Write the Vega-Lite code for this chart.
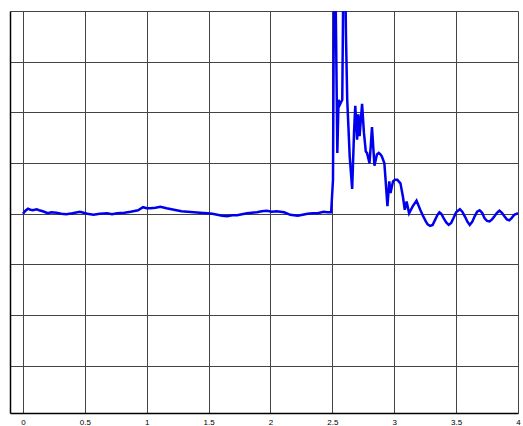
{
  "$schema": "https://vega.github.io/schema/vega-lite/v6.json",
  "autosize": "none",
  "width": 508,
  "height": 402,
  "padding": {"left": 10, "top": 11, "right": 5, "bottom": 13},
  "background": "white",
  "config": {"view": {"stroke": null}},
  "data": {"values": [
    {"t":0,"v":0},{"t":0.02,"v":0.06},{"t":0.04,"v":0.1},{"t":0.06,"v":0.08},{"t":0.08,"v":0.07},{"t":0.11,"v":0.09},{"t":0.13,"v":0.07},{"t":0.16,"v":0.05},{"t":0.2,"v":0.01},{"t":0.23,"v":0.03},{"t":0.27,"v":0.02},{"t":0.31,"v":0.0},{"t":0.35,"v":-0.01},{"t":0.4,"v":0.01},{"t":0.46,"v":0.04},{"t":0.52,"v":0},{"t":0.57,"v":-0.02},{"t":0.62,"v":0.0},{"t":0.68,"v":0.01},{"t":0.72,"v":-0.01},{"t":0.76,"v":0.01},{"t":0.82,"v":0.02},{"t":0.87,"v":0.04},{"t":0.93,"v":0.07},{"t":0.97,"v":0.13},{"t":1.0,"v":0.11},{"t":1.03,"v":0.11},{"t":1.07,"v":0.12},{"t":1.11,"v":0.14},{"t":1.16,"v":0.11},{"t":1.22,"v":0.08},{"t":1.28,"v":0.05},{"t":1.33,"v":0.04},{"t":1.38,"v":0.03},{"t":1.43,"v":0.02},{"t":1.49,"v":0.01},{"t":1.53,"v":0.0},{"t":1.57,"v":-0.02},{"t":1.61,"v":-0.04},{"t":1.65,"v":-0.05},{"t":1.69,"v":-0.03},{"t":1.73,"v":-0.03},{"t":1.77,"v":-0.01},{"t":1.81,"v":0.01},{"t":1.85,"v":0.02},{"t":1.89,"v":0.03},{"t":1.93,"v":0.05},{"t":1.97,"v":0.06},{"t":2.01,"v":0.04},{"t":2.05,"v":0.05},{"t":2.08,"v":0.04},{"t":2.11,"v":0.03},{"t":2.16,"v":-0.02},{"t":2.22,"v":-0.04},{"t":2.26,"v":-0.02},{"t":2.3,"v":0},{"t":2.34,"v":0.01},{"t":2.38,"v":0.01},{"t":2.43,"v":0.04},{"t":2.46,"v":0.03},{"t":2.49,"v":0.03},
    {"t":2.505,"v":0.67},{"t":2.51,"v":3.1},{"t":2.52,"v":5.5},{"t":2.53,"v":3.5},{"t":2.54,"v":1.2},{"t":2.55,"v":2.25},{"t":2.56,"v":2.15},{"t":2.57,"v":2.2},{"t":2.58,"v":2.25},{"t":2.59,"v":5.0},{"t":2.6,"v":5.5},{"t":2.61,"v":3.5},{"t":2.62,"v":2.25},{"t":2.63,"v":1.7},{"t":2.64,"v":1.13},{"t":2.66,"v":0.49},{"t":2.675,"v":1.6},{"t":2.685,"v":2.13},{"t":2.7,"v":1.46},{"t":2.71,"v":1.96},{"t":2.72,"v":1.53},{"t":2.74,"v":2.17},{"t":2.755,"v":1.6},{"t":2.77,"v":1.23},{"t":2.78,"v":1.2},{"t":2.8,"v":1.0},{"t":2.81,"v":1.33},{"t":2.82,"v":1.71},{"t":2.83,"v":1.33},{"t":2.84,"v":0.95},{"t":2.86,"v":1.17},{"t":2.875,"v":1.2},{"t":2.89,"v":1.17},{"t":2.9,"v":1.13},{"t":2.92,"v":1.0},{"t":2.93,"v":0.67},{"t":2.945,"v":0.15},{"t":2.96,"v":0.64},{"t":2.97,"v":0.41},{"t":2.99,"v":0.64},{"t":3.005,"v":0.67},{"t":3.025,"v":0.67},{"t":3.05,"v":0.6},{"t":3.07,"v":0.34},{"t":3.085,"v":0.08},{"t":3.1,"v":0.24},{"t":3.12,"v":0.01},{"t":3.15,"v":0.15},{"t":3.18,"v":0.26},{"t":3.21,"v":0.08},{"t":3.23,"v":-0.03},{"t":3.255,"v":-0.15},{"t":3.27,"v":-0.21},{"t":3.29,"v":-0.24},{"t":3.31,"v":-0.22},{"t":3.33,"v":-0.12},{"t":3.35,"v":-0.02},{"t":3.365,"v":0.03},{"t":3.38,"v":0.0},{"t":3.4,"v":-0.09},{"t":3.42,"v":-0.17},{"t":3.44,"v":-0.22},{"t":3.46,"v":-0.18},{"t":3.48,"v":-0.08},{"t":3.5,"v":0.03},{"t":3.53,"v":0.09},{"t":3.55,"v":0.04},{"t":3.57,"v":-0.05},{"t":3.59,"v":-0.15},{"t":3.61,"v":-0.22},{"t":3.63,"v":-0.16},{"t":3.65,"v":-0.05},{"t":3.67,"v":0.04},{"t":3.69,"v":0.07},{"t":3.71,"v":0.02},{"t":3.73,"v":-0.09},{"t":3.75,"v":-0.14},{"t":3.77,"v":-0.15},{"t":3.79,"v":-0.11},{"t":3.81,"v":-0.05},{"t":3.83,"v":0.02},{"t":3.85,"v":0.06},{"t":3.87,"v":0.02},{"t":3.89,"v":-0.05},{"t":3.91,"v":-0.11},{"t":3.93,"v":-0.13},{"t":3.95,"v":-0.08},{"t":3.97,"v":-0.02},{"t":4.0,"v":0.01}
  ]},
  "mark": {"type": "line", "color": "#0000ee", "strokeWidth": 2.5, "clip": true},
  "encoding": {
    "x": {
      "field": "t", "type": "quantitative",
      "scale": {"domain": [-0.105, 4], "nice": false, "zero": false},
      "axis": {
        "title": null,
        "values": [0, 0.5, 1, 1.5, 2, 2.5, 3, 3.5, 4],
        "format": "~g",
        "grid": true, "gridColor": "#444444", "gridOpacity": 1, "gridWidth": 1,
        "ticks": false,
        "domainColor": "#000000", "domainWidth": 1.5,
        "labelFontSize": 8, "labelColor": "#000000", "labelFont": "Liberation Sans",
        "labelPadding": 5, "labelFlush": false
      }
    },
    "y": {
      "field": "v", "type": "quantitative",
      "scale": {"domain": [-3.93, 4], "nice": false, "zero": false},
      "axis": {
        "title": null,
        "values": [-3, -2, -1, 0, 1, 2, 3, 4],
        "grid": true, "gridColor": "#444444", "gridOpacity": 1, "gridWidth": 1,
        "ticks": false, "labels": false,
        "domainColor": "#000000", "domainWidth": 1.5
      }
    }
  }
}
